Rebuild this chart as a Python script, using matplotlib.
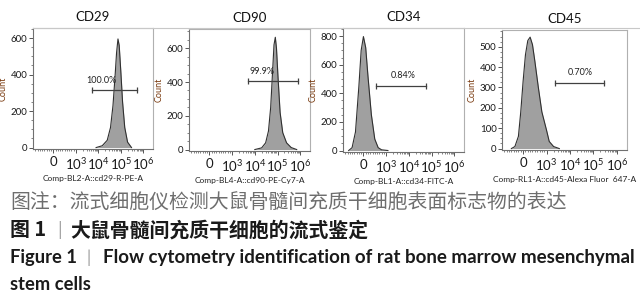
#!/usr/bin/env python3
"""大鼠骨髓间充质干细胞流式鉴定直方图（CD29 / CD90 / CD34 / CD45）。"""
import matplotlib
matplotlib.use("Agg")
import matplotlib.pyplot as plt
from matplotlib.lines import Line2D
from matplotlib.ticker import FixedLocator, MultipleLocator

# ---- data -------------------------------------------------------------
markers = ["CD29", "CD90", "CD34", "CD45"]
channels = ["Comp-BL2-A::cd29-R-PE-A", "Comp-BL4-A::cd90-PE-Cy7-A",
            "Comp-BL1-A::cd34-FITC-A", "Comp-RL1-A::cd45-Alexa Fluor  647-A"]

cd29_x = [8e3, 1.5e4, 2.5e4, 3.5e4, 4.5e4, 5.5e4, 6.5e4, 7.5e4, 8.5e4, 1e5, 1.2e5, 1.5e5, 2e5, 3e5]
cd29_y = [0, 10, 40, 110, 230, 380, 520, 595, 560, 420, 250, 110, 30, 0]

cd90_x = [1e4, 2e4, 3e4, 4e4, 5e4, 6e4, 7e4, 8e4, 9e4, 1.05e5, 1.3e5, 1.7e5, 2.5e5, 4e5, 7e5]
cd90_y = [0, 10, 40, 110, 250, 450, 620, 665, 600, 430, 220, 100, 40, 12, 0]

cd34_x = [-650, -500, -350, -200, -100, 0, 100, 200, 350, 500, 650, 800, 1200]
cd34_y = [0, 20, 130, 450, 700, 797, 720, 520, 250, 80, 20, 5, 0]

cd45_x = [-500, -350, -200, -100, 0, 100, 200, 300, 400, 500, 650, 800, 1000, 1300, 2000, 3500]
cd45_y = [0, 10, 60, 180, 330, 460, 530, 547, 510, 430, 300, 180, 90, 35, 10, 0]

hist_x = [cd29_x, cd90_x, cd34_x, cd45_x]
hist_y = [cd29_y, cd90_y, cd34_y, cd45_y]

gate_pct = ["100.0%", "99.9%", "0.84%", "0.70%"]
gate_lo = [5.5e3, 4.8e3, 550, 2.2e3]
gate_hi = [5.5e5, 8.0e5, 6.0e4, 2.7e5]
gate_lvl = [316, 405, 453, 323]
gate_text_x = [1.4e4, 2.1e4, 5.8e3, 2.8e4]

y_max = [655, 714, 857, 582]
y_ticks = [[0, 200, 400, 600], [0, 200, 400, 600], [0, 200, 400, 600, 800],
           [0, 100, 200, 300, 400, 500]]

x_ticks = [0, 1e3, 1e4, 1e5, 1e6]
x_ticklabels = ["0", r"$\mathregular{10^3}$", r"$\mathregular{10^4}$",
                r"$\mathregular{10^5}$", r"$\mathregular{10^6}$"]

# panel boxes in pixels: left, right, top, bottom
boxes = [(33, 153, 28, 149), (189, 310, 29, 151), (343, 464, 28, 152), (502, 627, 30, 150)]

W, H = 640, 300
FONT = ["Lato", "DejaVu Sans"]
CJK = ["Noto Sans CJK SC", "DejaVu Sans"]
plt.rcParams["mathtext.fontset"] = "custom"
plt.rcParams["mathtext.rm"] = "Lato"

fig = plt.figure(figsize=(W / 100, H / 100), dpi=100)
fig.patch.set_facecolor("white")

# thin grey line across the top of the panels
fig.add_artist(Line2D([33 / W, 1.0], [1 - 27.5 / H] * 2, color="#c8c8c8", lw=0.8))

minor_x = [v for v in range(-800, 1000, 100) if v != 0]
for k in (3, 4, 5):
    minor_x += [m * 10 ** k for m in range(2, 10)]

for i in range(4):
    l, r, t, b = boxes[i]
    ax = fig.add_axes([l / W, 1 - b / H, (r - l) / W, (b - t) / H])
    ax.set_xscale("symlog", linthresh=1000, linscale=0.9)
    ax.set_xlim(-900, 2.7e6)
    ax.set_ylim(-max(y_max[i] * 0.012, 6), y_max[i])

    ax.fill_between(hist_x[i], hist_y[i], 0, color="#a0a0a0", lw=0)
    ax.plot(hist_x[i], hist_y[i], color="#303030", lw=0.8)

    # gate bar
    ax.plot([gate_lo[i], gate_hi[i]], [gate_lvl[i]] * 2, color="#404040", lw=0.9,
            marker="|", markersize=5, markeredgewidth=0.9)
    ax.text(gate_text_x[i], gate_lvl[i] + y_max[i] * 0.045, gate_pct[i], ha="center",
            va="bottom", fontsize=6.5, family=FONT, color="#222222")

    ax.xaxis.set_major_locator(FixedLocator(x_ticks))
    ax.set_xticklabels(x_ticklabels)
    ax.xaxis.set_minor_locator(FixedLocator(minor_x))
    ax.set_yticks(y_ticks[i])
    ax.yaxis.set_minor_locator(MultipleLocator(y_ticks[i][1] / 4))

    ax.tick_params(axis="x", which="major", labelsize=9.5, length=3, width=0.7,
                   color="#555555", pad=2)
    ax.tick_params(axis="y", which="major", labelsize=7, length=3, width=0.7,
                   color="#555555", pad=1)
    ax.tick_params(which="minor", length=1.6, width=0.5, color="#555555")
    for lab in ax.get_xticklabels() + ax.get_yticklabels():
        lab.set_family(FONT)
        lab.set_color("#1a1a1a")

    for side in ("top", "right"):
        ax.spines[side].set_color("#b0b0b0")
        ax.spines[side].set_linewidth(0.8)
    for side in ("left", "bottom"):
        ax.spines[side].set_color("#707070")
        ax.spines[side].set_linewidth(0.8)

    ax.set_title(markers[i], fontsize=9.5, family=FONT, color="#111111", pad=5)
    ax.set_xlabel(channels[i], fontsize=6, family=FONT, color="#222222", labelpad=2)
    ax.set_ylabel("Count", fontsize=6.5, family=FONT, color="#7a3b10", labelpad=2)

# ---- captions ---------------------------------------------------------
fig.text(10 / W, 1 - 202 / H, "图注：流式细胞仪检测大鼠骨髓间充质干细胞表面标志物的表达",
         fontsize=14.3, family=CJK, color="#6e6e6e", va="center", ha="left")
fig.text(10 / W, 1 - 230 / H, "图 1", fontsize=14.3, family=CJK, weight="bold",
         color="#1a1a1a", va="center", ha="left")
fig.text(60 / W, 1 - 230 / H, "|", fontsize=12, family=CJK, color="#9a9a9a",
         va="center", ha="center")
fig.text(70 / W, 1 - 230 / H, "大鼠骨髓间充质干细胞的流式鉴定", fontsize=14.3, family=CJK,
         weight="bold", color="#1a1a1a", va="center", ha="left")
fig.text(10 / W, 1 - 258 / H, "Figure 1", fontsize=13.2, family=FONT, weight="bold",
         color="#1a1a1a", va="center", ha="left")
fig.text(89 / W, 1 - 258 / H, "|", fontsize=12, family=FONT, color="#9a9a9a",
         va="center", ha="center")
fig.text(103 / W, 1 - 258 / H, "Flow cytometry identification of rat bone marrow mesenchymal",
         fontsize=13.5, family=FONT, weight="bold", color="#1a1a1a", va="center", ha="left")
fig.text(10 / W, 1 - 285 / H, "stem cells", fontsize=13.2, family=FONT, weight="bold",
         color="#1a1a1a", va="center", ha="left")

fig.savefig("out.png", dpi=100, facecolor="white")
